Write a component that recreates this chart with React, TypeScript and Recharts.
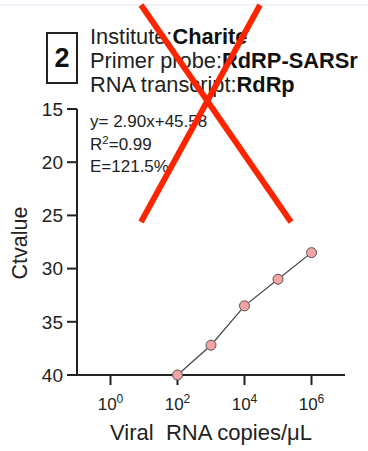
import { LineChart, Line, XAxis, YAxis } from "recharts";

// standard curve points: log10 copies vs Ct
const exponents = [2, 3, 4, 5, 6];
const ctValues = [40, 37.2, 33.5, 31.0, 28.5];
const xTicks = [0, 2, 4, 6];
const yTicks = [15, 20, 25, 30, 35, 40];

const panelNumber = "2";
const titleLabels = ["Institute:", "Primer probe:", "RNA transcript:"];
const titleValues = ["Charite", "RdRP-SARSr", "RdRp"];
const fitSlope = "y= 2.90x+45.58";
const fitR2 = "0.99";
const fitEfficiency = "E=121.5%";

const FONT = "'Liberation Sans', Arial, Helvetica, sans-serif";
const INK = "#222";

const data = exponents.map((e, i) => ({ exp: e, ct: ctValues[i] }));

const PowerTick = (props: any) => {
  const { x, y, payload } = props;
  return (
    <text x={x} y={y + 25} textAnchor="middle" fontSize={17} fill={INK} fontFamily={FONT}>
      10
      <tspan dy={-7} fontSize={12}>
        {payload.value}
      </tspan>
    </text>
  );
};

const App = () => {
  return (
    <div style={{ position: "absolute", left: 0, top: 0, width: 368, height: 451, background: "#fff" }}>
      <LineChart
        width={368}
        height={451}
        data={data}
        margin={{ top: 109, right: 23, bottom: 36, left: 17 }}
      >
        <XAxis
          type="number"
          dataKey="exp"
          domain={[-1, 7]}
          ticks={xTicks}
          tick={<PowerTick />}
          tickSize={10}
          tickMargin={0}
          height={40}
          axisLine={{ stroke: INK, strokeWidth: 2 }}
          tickLine={{ stroke: INK, strokeWidth: 2 }}
          allowDataOverflow
        />
        <YAxis
          type="number"
          reversed
          domain={[15, 40]}
          ticks={yTicks}
          width={60}
          tickSize={10}
          tickMargin={4}
          tick={{ fontSize: 19, fill: INK, fontFamily: FONT }}
          axisLine={{ stroke: INK, strokeWidth: 2 }}
          tickLine={{ stroke: INK, strokeWidth: 2 }}
        />
        <Line
          type="linear"
          dataKey="ct"
          stroke="#444"
          strokeWidth={1.2}
          dot={{ r: 5, fill: "#f5a3a3", stroke: "#555", strokeWidth: 1 }}
          isAnimationActive={false}
        />
      </LineChart>
      <svg
        width={368}
        height={451}
        style={{ position: "absolute", left: 0, top: 0, pointerEvents: "none" }}
      >
        <line x1={0} y1={5} x2={368} y2={5} stroke="#dbe8f2" strokeWidth={1} />
        <rect x={47} y={33} width={30} height={50} fill="none" stroke={INK} strokeWidth={2} />
        <text x={62} y={67} textAnchor="middle" fontSize={27} fontWeight="bold" fill="#111" fontFamily={FONT}>
          {panelNumber}
        </text>
        {titleLabels.map((label, i) => (
          <text key={label} x={90} y={43.5 + i * 24} fontSize={21.8} fill={INK} fontFamily={FONT}>
            {label}
            <tspan fontWeight="bold" fill="#111">
              {titleValues[i]}
            </tspan>
          </text>
        ))}
        <text x={90} y={127} fontSize={17} fill={INK} fontFamily={FONT}>
          {fitSlope}
        </text>
        <text x={90} y={149.5} fontSize={17} fill={INK} fontFamily={FONT}>
          R
          <tspan dy={-6} fontSize={11.5}>
            2
          </tspan>
          <tspan dy={6}>={fitR2}</tspan>
        </text>
        <text x={90} y={172} fontSize={17} fill={INK} fontFamily={FONT}>
          {fitEfficiency}
        </text>
        <text
          x={0}
          y={0}
          transform="translate(27 243) rotate(-90)"
          textAnchor="middle"
          fontSize={21.5}
          fill={INK}
          fontFamily={FONT}
        >
          Ctvalue
        </text>
        <text x={211} y={440} textAnchor="middle" fontSize={22} fill={INK} fontFamily={FONT}>
          Viral{"\u00a0\u00a0"}RNA copies/μL
        </text>
        <line x1={141} y1={5} x2={291} y2={222} stroke="#ff2400" strokeWidth={5.8} />
        <line x1={260} y1={5} x2={141} y2={222} stroke="#ff2400" strokeWidth={5.8} />
      </svg>
    </div>
  );
};

export default App;
